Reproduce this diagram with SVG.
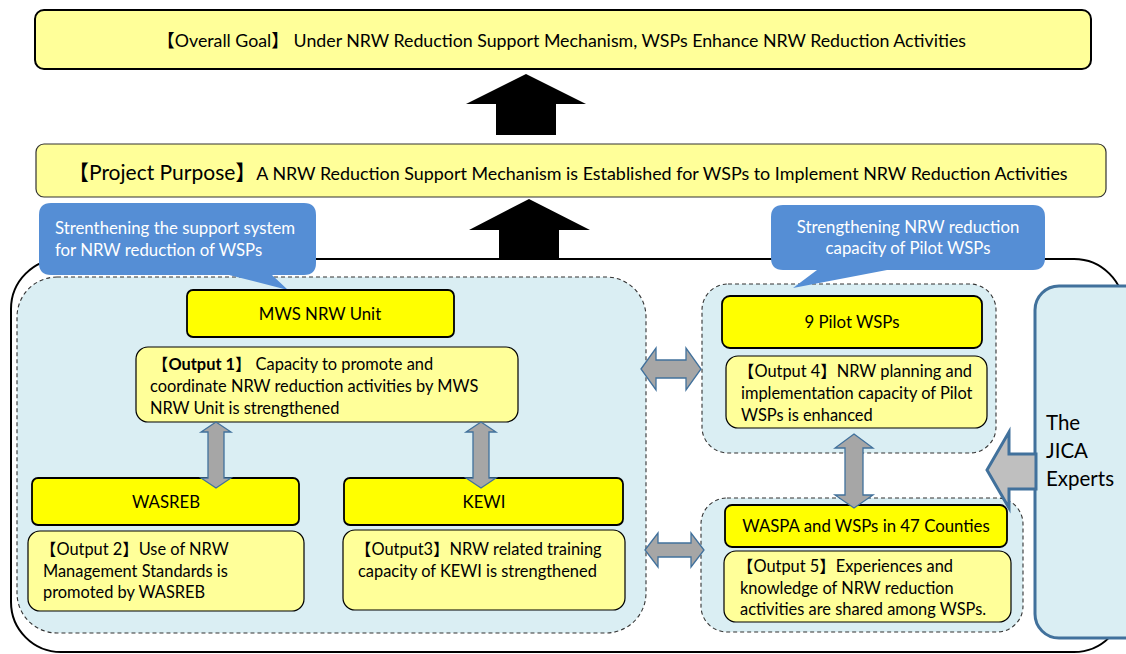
<svg xmlns="http://www.w3.org/2000/svg" width="1126" height="654" viewBox="0 0 1126 654">
<style>
text{font-family:Lato,"Liberation Sans","Noto Sans CJK JP",sans-serif;fill:#000;}
.pale{fill:#FFFF99;stroke:#000;stroke-width:1.2;}
.yel{fill:#FFFF00;stroke:#000;stroke-width:1.8;}
.panel{fill:#DAEEF3;stroke:#333;stroke-width:1.1;stroke-dasharray:4 3;}
.callout{fill:#558ED5;}
.ct{fill:#fff;font-size:16.8px;}
.bt{font-size:16.4px;}
.lbl{font-size:16.8px;text-anchor:middle;}
.dbl{fill:#A6A6A6;stroke:#41719C;stroke-width:1.3;stroke-linejoin:miter;}
.big{fill:#000;}
</style>
<rect width="1126" height="654" fill="#fff"/>

<g id="goal">
<rect x="35" y="10" width="1056" height="59" rx="9" fill="#FFFF99" stroke="#000" stroke-width="2"/>
<text x="157" y="47" font-size="17.8" textLength="809" lengthAdjust="spacing">【Overall Goal】 Under NRW Reduction Support Mechanism, WSPs Enhance NRW Reduction Activities</text>
</g>

<g id="purpose">
<rect x="36" y="144" width="1070" height="53" rx="8" fill="#FFFF99" stroke="#333" stroke-width="1.2"/>
<text x="68" y="180"><tspan font-size="21">【Project Purpose】</tspan><tspan font-size="17.9">A NRW Reduction Support Mechanism is Established for WSPs to Implement NRW Reduction Activities</tspan></text>
</g>

<g id="frame">
<rect x="11" y="259" width="1113" height="393" rx="50" fill="none" stroke="#000" stroke-width="2"/>
</g>

<g id="panel-left">
<rect class="panel" x="17" y="277" width="629" height="356" rx="40"/>
</g>
<g id="panel-pilot">
<rect class="panel" x="702" y="284" width="294" height="169" rx="26"/>
</g>
<g id="panel-waspa">
<rect class="panel" x="701" y="498" width="322" height="134" rx="26"/>
</g>

<g id="callout-left">
<path class="callout" d="M51,203 H304 Q316,203 316,215 V263 Q316,275 304,275 H272 L288,290 L229,275 H51 Q39,275 39,263 V215 Q39,203 51,203 Z"/>
<text class="ct" x="55" y="234">Strenthening the support system</text>
<text class="ct" x="55" y="256">for NRW reduction of WSPs</text>
</g>

<g id="callout-right">
<path class="callout" d="M783,205 H1033 Q1045,205 1045,217 V258 Q1045,270 1033,270 H887 L793,288 L817,270 H783 Q771,270 771,258 V217 Q771,205 783,205 Z"/>
<text class="ct" x="908" y="233" text-anchor="middle">Strengthening NRW reduction</text>
<text class="ct" x="908" y="254" text-anchor="middle">capacity of Pilot WSPs</text>
</g>

<g id="jica">
<rect x="1035" y="286" width="130" height="352" rx="24" fill="#DAEEF3" stroke="#41719C" stroke-width="3"/>
<text x="1046" y="430" font-size="20.5">The</text>
<text x="1046" y="458" font-size="20.5">JICA</text>
<text x="1046" y="486" font-size="20.5">Experts</text>
</g>

<g id="mws">
<rect class="yel" x="187" y="290" width="267" height="47" rx="6"/>
<text class="lbl" x="320" y="320">MWS NRW Unit</text>
</g>
<g id="output1">
<rect class="pale" x="136" y="347" width="382" height="75" rx="12"/>
<text class="bt" x="152" y="370">【<tspan font-weight="bold">Output 1</tspan>】 Capacity to promote and</text>
<text class="bt" x="150" y="392">coordinate NRW reduction activities by MWS</text>
<text class="bt" x="150" y="414">NRW Unit is strengthened</text>
</g>
<g id="wasreb">
<rect class="yel" x="32" y="478" width="267" height="47" rx="6"/>
<text class="lbl" x="166" y="508">WASREB</text>
</g>
<g id="output2">
<rect class="pale" x="28" y="531" width="276" height="80" rx="12"/>
<text class="bt" x="40" y="555">【Output 2】Use of NRW</text>
<text class="bt" x="43" y="577">Management Standards is</text>
<text class="bt" x="43" y="598">promoted by WASREB</text>
</g>
<g id="kewi">
<rect class="yel" x="344" y="478" width="279" height="47" rx="6"/>
<text class="lbl" x="484" y="508">KEWI</text>
</g>
<g id="output3">
<rect class="pale" x="343" y="530" width="282" height="80" rx="12"/>
<text class="bt" x="355" y="555">【Output3】NRW related training</text>
<text class="bt" x="358" y="577">capacity of KEWI is strengthened</text>
</g>
<g id="pilot">
<rect class="yel" x="722" y="296" width="260" height="52" rx="8"/>
<text class="lbl" x="852" y="328">9 Pilot WSPs</text>
</g>
<g id="output4">
<rect class="pale" x="726" y="356" width="261" height="72" rx="12"/>
<text class="bt" x="738" y="377">【Output 4】NRW planning and</text>
<text class="bt" x="741" y="399">implementation capacity of Pilot</text>
<text class="bt" x="741" y="421">WSPs is enhanced</text>
</g>
<g id="waspa">
<rect class="yel" x="725" y="505" width="282" height="42" rx="7"/>
<text class="lbl" x="866" y="532">WASPA and WSPs in 47 Counties</text>
</g>
<g id="output5">
<rect class="pale" x="724" y="551" width="287" height="71" rx="12"/>
<text class="bt" x="737" y="572">【Output 5】Experiences and</text>
<text class="bt" x="740" y="594">knowledge of NRW reduction</text>
<text class="bt" x="740" y="615">activities are shared among WSPs.</text>
</g>

<g id="connectors">
<polygon class="big" points="526,74 586,104 556,104 556,135 496,135 496,104 466,104"/>
<polygon class="big" points="529,199 590,230 559,230 559,260 499,260 499,230 469,230"/>
<polygon class="dbl" points="216,422 231,432 224,432 224,478 231,478 216,488 201,478 208,478 208,432 201,432"/>
<polygon class="dbl" points="481,422 496,432 489,432 489,478 496,478 481,488 466,478 473,478 473,432 466,432"/>
<polygon class="dbl" points="854,434 873,448 863,448 863,495 873,495 854,508 835,495 845,495 845,448 835,448"/>
<polygon class="dbl" points="641,369 656,348 656,360 686,360 686,348 701,369 686,390 686,378 656,378 656,390"/>
<polygon class="dbl" points="645,550 658,533 658,543 691,543 691,533 704,550 691,567 691,557 658,557 658,567"/>
<polygon points="987,470 1009,432 1009,454 1036,454 1036,489 1009,489 1009,508" fill="#BFBFBF" stroke="#41719C" stroke-width="3" stroke-linejoin="miter"/>
</g>
</svg>
